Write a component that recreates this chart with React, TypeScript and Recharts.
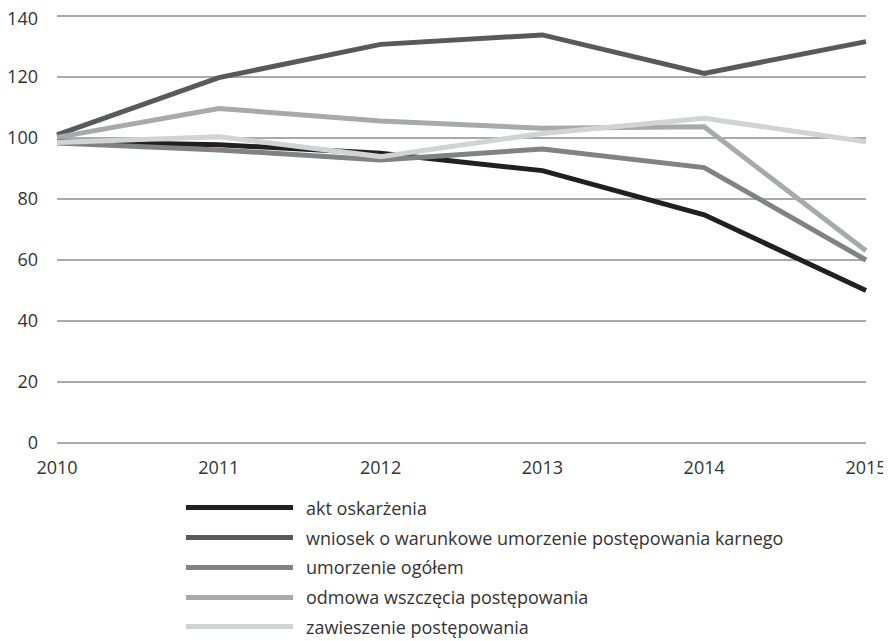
import React from 'react';
import { LineChart, Line, XAxis, YAxis, CartesianGrid } from 'recharts';

// index values (2010 = ~100)
const years = ['2010', '2011', '2012', '2013', '2014', '2015'];
const aktOskarzenia = [98.8, 97.8, 95, 89.3, 74.8, 50];
const wniosek = [101, 119.8, 130.7, 133.8, 121.2, 131.6];
const umorzenie = [98.4, 96.1, 92.8, 96.4, 90.3, 60];
const odmowa = [100.2, 109.7, 105.6, 103.2, 103.7, 63];
const zawieszenie = [98.5, 100.4, 93.9, 101.5, 106.5, 98.8];
const yTicks = [0, 20, 40, 60, 80, 100, 120, 140];

const series = [
  { key: 'akt', name: 'akt oskarżenia', values: aktOskarzenia, color: '#231f20' },
  { key: 'wniosek', name: 'wniosek o warunkowe umorzenie postępowania karnego', values: wniosek, color: '#58595b' },
  { key: 'umorzenie', name: 'umorzenie ogółem', values: umorzenie, color: '#808285' },
  { key: 'odmowa', name: 'odmowa wszczęcia postępowania', values: odmowa, color: '#a7a9ac' },
  { key: 'zawieszenie', name: 'zawieszenie postępowania', values: zawieszenie, color: '#d1d3d4' },
];

const data = years.map((year, i) => {
  const row: Record<string, string | number> = { year };
  series.forEach((s) => {
    row[s.key] = s.values[i];
  });
  return row;
});

const FONT = '"Open Sans", sans-serif';
const tickStyle = { fontSize: 18, fill: '#333333', fontFamily: FONT };

export default function App() {
  return (
    <div style={{ width: 875, fontFamily: FONT }}>
      {/* no scrollbar, and let the last year label spill past the svg edge */}
      <style>{'html, body { overflow: hidden; } .recharts-surface { overflow: visible; }'}</style>
      <LineChart
        width={875}
        height={475}
        data={data}
        margin={{ top: 8, right: 17, left: 0, bottom: 0 }}
      >
        <CartesianGrid vertical={false} stroke="#555555" strokeWidth={1} />
        <XAxis
          dataKey="year"
          axisLine={false}
          tickLine={false}
          tickSize={0}
          tickMargin={18}
          height={40}
          interval={0}
          tick={tickStyle}
        />
        <YAxis
          domain={[0, 140]}
          ticks={yTicks}
          axisLine={false}
          tickLine={false}
          tickSize={0}
          tickMargin={19}
          width={49}
          tick={tickStyle}
        />
        {series.map((s) => (
          <Line
            key={s.key}
            dataKey={s.key}
            name={s.name}
            stroke={s.color}
            strokeWidth={5}
            dot={false}
            activeDot={false}
            isAnimationActive={false}
          />
        ))}
      </LineChart>
      <div style={{ marginTop: 10, paddingLeft: 178 }}>
        {series.map((s) => (
          <div key={s.key} style={{ display: 'flex', alignItems: 'center', height: 29.75 }}>
            <span style={{ display: 'inline-block', width: 107, height: 5, background: s.color, marginRight: 13 }} />
            <span style={{ fontSize: 18, color: '#333333' }}>{s.name}</span>
          </div>
        ))}
      </div>
    </div>
  );
}
